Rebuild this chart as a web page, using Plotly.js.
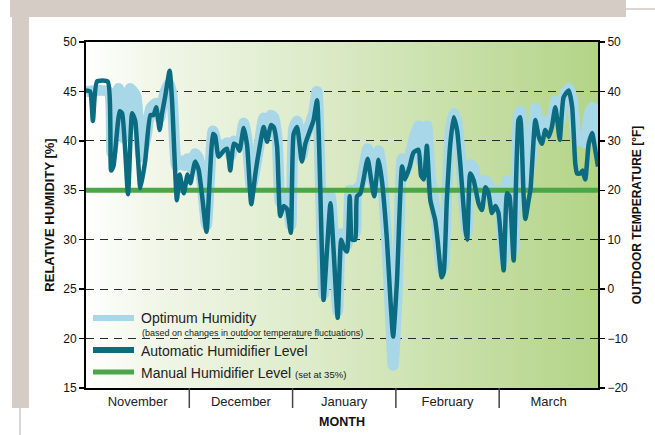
<!DOCTYPE html>
<html><head><meta charset="utf-8">
<script src="https://cdn.plot.ly/plotly-3.0.1.min.js"></script>
<style>html,body{margin:0;padding:0;background:#fff;}#chart{width:655px;height:435px;}</style>
</head><body><div id="chart"></div>
<script>
// ---- data (x = day position, 30 per month) ----
const months = ['November','December','January','February','March'];
const monthBounds = [0,30,60,90,120,148.7];

const autoDay = [0,1.2,2.0,3.2,6.3,7.3,8.0,9.8,10.5,12.2,13.4,14.3,15.8,17.2,18.7,19.6,20.4,21.4,22.1,23.0,24.3,25.0,26.4,27.2,28.4,29.5,30.3,31.7,32.7,33.7,35.0,36.9,37.5,38.5,40.0,41.0,41.9,42.9,43.9,44.6,45.8,46.8,48.0,49.2,50.1,51.6,52.6,53.7,54.5,55.5,56.4,57.4,58.4,59.5,60.3,61.3,62.7,63.7,65.1,66.1,67.1,68.5,69.0,70.0,71.0,71.9,73.1,74.1,74.8,75.8,76.6,77.3,78.2,78.7,79.7,80.6,81.8,82.8,83.7,85.0,86.0,87.4,88.4,89.2,90.3,91.8,92.7,94.0,95.1,96.6,97.3,98.1,99.0,100.0,101.4,102.1,103.3,103.9,104.8,105.8,106.8,107.8,108.7,110.2,110.7,111.6,112.6,114.0,115.0,116.0,116.9,117.9,118.9,119.8,121.3,122.3,123.0,124.2,125.6,126.1,127.1,127.6,128.6,129.1,130.5,131.5,132.4,133.4,134.4,135.3,136.3,137.0,137.6,138.7,140.2,141.2,142.1,142.6,143.6,144.2,145.0,146.0,147.0,147.7,148.7];
const autoRH = [45.1,45.0,42.0,46.0,46.0,37.0,37.5,43.0,42.8,34.6,42.8,42.0,35.2,38.0,42.6,42.6,43.4,41.1,42.8,44.5,47.1,44.0,34.0,36.6,34.7,36.6,35.7,37.9,37.1,34.5,30.8,40.7,40.5,38.4,39.0,39.2,37.0,39.7,39.5,39.0,41.3,39.5,33.6,36.7,38.7,41.4,39.9,41.6,41.4,39.4,32.4,33.4,33.1,30.7,40.7,41.4,37.9,39.7,41.1,42.1,44.1,29.0,23.9,29.0,33.7,29.0,22.1,30.0,29.3,28.8,34.4,30.0,30.0,34.4,34.7,36.1,38.2,36.1,34.4,38.1,35.8,30.0,24.0,20.2,25.7,37.4,36.1,37.4,38.8,39.1,36.5,36.1,39.5,34.0,32.0,30.0,26.2,26.7,34.0,39.7,42.4,41.0,37.7,31.0,30.0,36.7,36.0,33.7,33.0,35.3,34.7,32.7,33.4,32.7,26.9,34.7,34.4,27.9,42.1,42.4,34.4,32.1,34.1,35.1,42.1,40.4,39.7,41.1,40.4,41.4,43.4,41.7,40.1,44.4,45.1,43.4,37.7,36.7,36.7,37.0,36.1,39.7,40.8,39.5,37.4];

const optDay = [0,6.5,7.5,9.5,11.0,12.8,14.5,16.0,17.5,18.8,20.4,21.4,22.1,23.0,24.2,25.0,26.3,27.4,28.5,29.5,30.5,31.7,32.7,33.8,35.0,36.9,38.5,40.0,41.0,42.0,43.0,44.6,45.8,46.8,48.0,49.2,50.1,51.6,52.6,53.7,54.5,55.5,56.4,57.4,58.4,59.5,60.3,61.3,62.7,63.7,65.1,66.1,67.1,68.5,69.0,70.0,71.0,71.9,73.1,74.1,75.8,76.6,77.3,78.2,78.7,79.7,80.6,81.8,82.8,83.7,85.0,86.0,87.4,88.4,89.2,90.3,91.8,92.7,94.0,95.1,96.6,97.3,98.1,99.0,100.0,101.4,102.1,103.3,103.9,104.8,105.8,106.8,107.8,108.7,110.2,110.7,111.6,112.6,114.0,115.0,116.0,116.9,117.9,118.9,119.8,121.3,122.3,123.0,124.2,125.6,126.1,127.1,127.6,128.6,129.1,130.5,131.5,132.4,133.4,134.4,135.3,136.3,137.0,137.6,138.7,140.2,141.2,142.1,142.6,143.6,144.2,145.0,146.0,147.0,147.7,148.7];
const optRH = [45.0,45.0,38.8,45.3,40.3,45.3,44.5,38.4,40.5,43.3,43.8,42.3,43.6,45.0,45.8,44.5,37.5,38.0,37.5,38.2,37.3,38.7,38.2,35.5,31.5,41.0,39.2,39.5,39.8,38.5,40.0,39.6,41.8,40.0,35.3,37.3,39.2,42.3,40.8,42.6,42.4,40.2,33.8,34.6,34.2,31.5,41.2,42.0,38.5,40.3,41.8,42.8,45.0,29.8,24.5,29.8,34.4,29.8,22.8,30.6,29.5,35.0,30.7,30.7,35.2,35.4,37.0,39.2,37.0,35.2,39.0,36.5,29.5,22.5,17.3,24.0,38.2,36.8,38.4,40.0,41.5,38.0,37.5,41.5,36.5,33.0,30.5,27.0,27.5,35.0,41.0,42.8,41.8,38.5,31.8,30.8,37.6,37.2,35.0,34.4,36.0,35.6,34.0,34.6,35.0,28.0,36.0,35.5,29.0,42.6,43.0,36.5,35.5,37.0,37.5,43.3,41.5,41.0,42.0,42.0,42.2,44.0,43.0,42.0,44.6,45.3,44.3,40.8,40.0,40.2,40.5,39.8,42.5,43.4,43.2,39.7];

const manualRH = 35;
const rhTicks = [15,20,25,30,35,40,45,50];
const tempTicks = [-20,-10,0,10,20,30,40,50];

// ---- layout helpers ----
const W = 655, H = 435;
const M = {l:86, r:57, t:42, b:47};
const PW = W - M.l - M.r, PH = H - M.t - M.b;
const px = v => (v - M.l) / PW;          // pixel x -> paper
const py = v => (H - M.b - v) / PH;      // pixel y -> paper

const FONT = '"Liberation Sans",Arial,sans-serif';
const C_OPT = '#a8d7e8', C_AUTO = '#0b6b80', C_MAN = '#4aa646', GREY = '#d5ccc6';

const monthCenters = months.map((m,i) => (monthBounds[i] + monthBounds[i+1]) / 2);
const xEnd = monthBounds[monthBounds.length-1];

const traces = [
  {x: optDay, y: optRH, type:'scatter', mode:'lines', name:'Optimum Humidity',
   line:{color:C_OPT, width:11, shape:'spline', smoothing:0.5}, hoverinfo:'skip'},
  {x: [0, xEnd], y: [manualRH, manualRH], type:'scatter', mode:'lines', name:'Manual Humidifier Level',
   line:{color:C_MAN, width:5}, hoverinfo:'skip'},
  {x: autoDay, y: autoRH, type:'scatter', mode:'lines', name:'Automatic Humidifier Level',
   line:{color:C_AUTO, width:4.5, shape:'spline', smoothing:0.5}, hoverinfo:'skip'},
  {x: [null], y: [null], yaxis:'y2', type:'scatter', mode:'lines', showlegend:false, hoverinfo:'skip'}
];

const bgSvg = '<svg xmlns="http://www.w3.org/2000/svg" width="512" height="346" preserveAspectRatio="none">' +
  '<defs><linearGradient id="g" x1="0" y1="0" x2="1" y2="0">' +
  '<stop offset="0" stop-color="#ffffff"/><stop offset="0.12" stop-color="#f2f7ea"/>' +
  '<stop offset="0.5" stop-color="#d9e9c3"/><stop offset="1" stop-color="#b3d487"/>' +
  '</linearGradient></defs><rect width="512" height="346" fill="url(#g)"/></svg>';

const shapes = [
  // frame decoration
  {type:'rect', xref:'paper', yref:'paper', x0:px(10), x1:px(626), y0:py(0), y1:py(17), fillcolor:GREY, line:{width:0}, layer:'below'},
  {type:'rect', xref:'paper', yref:'paper', x0:px(12), x1:px(29), y0:py(17), y1:py(408), fillcolor:GREY, line:{width:0}, layer:'below'},
  {type:'line', xref:'paper', yref:'paper', x0:px(20), x1:px(20), y0:py(408), y1:py(435), line:{color:'#ddd6d0', width:2}},
  {type:'line', xref:'paper', yref:'paper', x0:px(626), x1:px(655), y0:py(9), y1:py(9), line:{color:'#ddd6d0', width:2}},
  // legend swatches
  {type:'line', xref:'paper', yref:'paper', x0:px(93), x1:px(134), y0:py(318), y1:py(318), line:{color:C_OPT, width:6}},
  {type:'line', xref:'paper', yref:'paper', x0:px(93), x1:px(134), y0:py(350), y1:py(350), line:{color:C_AUTO, width:6}},
  {type:'line', xref:'paper', yref:'paper', x0:px(93), x1:px(134), y0:py(372), y1:py(372), line:{color:C_MAN, width:5}}
];
// month separators below the axis
monthBounds.slice(1, -1).forEach(b => shapes.push(
  {type:'line', xref:'x', yref:'paper', x0:b, x1:b, y0:0, y1:py(408), line:{color:'#444', width:1.5}}));

const annotations = [
  {xref:'paper', yref:'paper', x:px(139), y:py(318), xanchor:'left', yanchor:'middle', showarrow:false,
   text:'Optimum Humidity', font:{family:FONT, size:14, color:'#222'}},
  {xref:'paper', yref:'paper', x:px(140), y:py(333), xanchor:'left', yanchor:'middle', showarrow:false,
   text:'(based on changes in outdoor temperature fluctuations)', font:{family:FONT, size:9, color:'#222'}},
  {xref:'paper', yref:'paper', x:px(139), y:py(351), xanchor:'left', yanchor:'middle', showarrow:false,
   text:'Automatic Humidifier Level', font:{family:FONT, size:14, color:'#222'}},
  {xref:'paper', yref:'paper', x:px(139), y:py(373), xanchor:'left', yanchor:'middle', showarrow:false,
   text:'Manual Humidifier Level <span style="font-size:9.5px">(set at 35%)</span>', font:{family:FONT, size:14, color:'#222'}}
];

const layout = {
  width: W, height: H,
  margin: M,
  paper_bgcolor:'#ffffff', plot_bgcolor:'rgba(0,0,0,0)',
  showlegend:false,
  font:{family:FONT, color:'#111'},
  images:[{source:'data:image/svg+xml;charset=utf-8,' + encodeURIComponent(bgSvg),
    xref:'paper', yref:'paper', x:0, y:1, sizex:1, sizey:1, sizing:'stretch',
    xanchor:'left', yanchor:'top', layer:'below'}],
  xaxis:{range:[0, xEnd], tickmode:'array', tickvals:monthCenters, ticktext:months,
    ticks:'', showgrid:false, zeroline:false, showline:true, linecolor:'#000', linewidth:2, mirror:true,
    tickfont:{family:FONT, size:13, color:'#222'}, ticklabelstandoff:0,
    title:{text:'<b>MONTH</b>', font:{family:FONT, size:12.5, color:'#111'}, standoff:10}},
  yaxis:{range:[15,50], tickmode:'array', tickvals:rhTicks, ticks:'outside', ticklen:5, tickwidth:1.5, tickcolor:'#000',
    showgrid:true, gridcolor:'#2a2a2a', gridwidth:1.2, griddash:'8px,6px', zeroline:false,
    showline:true, linecolor:'#000', linewidth:2, mirror:true,
    tickfont:{family:FONT, size:12, color:'#111'},
    title:{text:'<b>RELATIVE HUMIDITY [%]</b>', font:{family:FONT, size:13, color:'#111'}, standoff:6}},
  yaxis2:{range:[-20,50], overlaying:'y', side:'right', tickmode:'array', tickvals:tempTicks,
    ticks:'outside', ticklen:5, tickwidth:1.5, tickcolor:'#000', showgrid:false, zeroline:false,
    showline:true, linecolor:'#000', linewidth:2,
    tickfont:{family:FONT, size:12, color:'#111'},
    title:{text:'<b>OUTDOOR TEMPERATURE [°F]</b>', font:{family:FONT, size:12, color:'#111'}, standoff:6}},
  shapes: shapes,
  annotations: annotations
};

Plotly.newPlot('chart', traces, layout, {staticPlot:true, displayModeBar:false});
</script></body></html>
